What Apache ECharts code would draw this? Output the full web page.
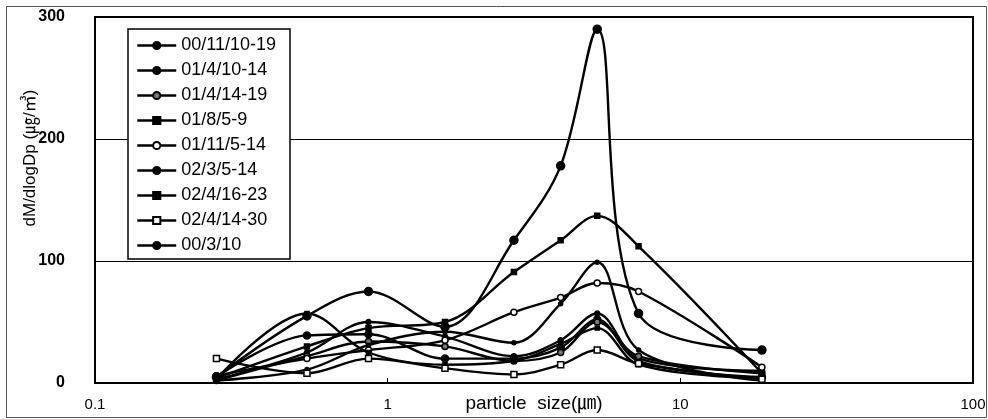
<!DOCTYPE html>
<html>
<head>
<meta charset="utf-8">
<script src="https://cdn.jsdelivr.net/npm/echarts@6/dist/echarts.min.js"></script>
<style>
  html, body { margin: 0; padding: 0; background: #fff; }
  #chart { width: 988px; height: 419px; }
</style>
</head>
<body>
<div id="chart"></div>
<script>
// particle size (um) of each impactor stage
var sizes = [0.26, 0.53, 0.86, 1.57, 2.7, 3.9, 5.2, 7.2, 19];

var names = ['00/11/10-19', '01/4/10-14', '01/4/14-19', '01/8/5-9', '01/11/5-14',
  '02/3/5-14', '02/4/16-23', '02/4/14-30', '00/3/10'];

var s0011 = [3, 25, 50, 38, 22, 35, 57, 20, 10];
var s0104a = [5, 39, 40, 20, 20, 29, 52, 18, 5];
var s0104b = [2, 22, 34, 30, 18, 25, 50, 22, 8];
var s0108 = [4, 30, 45, 50, 91, 117, 137, 112, 8];
var s0111 = [6, 20, 27, 35, 58, 70, 82, 75, 13];
var s0203 = [2, 11, 31, 42, 33, 65, 99, 27, 2];
var s0204a = [3, 57, 25, 15, 18, 32, 45, 15, 4];
var s0204b = [20, 8, 20, 12, 7, 15, 27, 16, 3];
var s0003 = [5, 55, 75, 46, 117, 178, 290, 57, 27];

var yTicks = [0, 100, 200, 300];
var xTicks = [0.1, 1, 10, 100];

var allData = [s0011, s0104a, s0104b, s0108, s0111, s0203, s0204a, s0204b, s0003];
// marker look per series
var marks = [
  { symbol: 'circle', size: 5, fill: '#000' },
  { symbol: 'circle', size: 7, fill: '#000' },
  { symbol: 'circle', size: 6, fill: '#777' },
  { symbol: 'rect', size: 5, fill: '#000' },
  { symbol: 'circle', size: 6, fill: '#fff' },
  { symbol: 'circle', size: 4, fill: '#000' },
  { symbol: 'rect', size: 4, fill: '#000' },
  { symbol: 'rect', size: 6, fill: '#fff' },
  { symbol: 'circle', size: 8, fill: '#000' }
];

var series = allData.map(function (vals, i) {
  return {
    name: names[i],
    type: 'line',
    smooth: 0.35,
    symbol: marks[i].symbol,
    symbolSize: marks[i].size,
    showAllSymbol: true,
    data: vals.map(function (v, j) { return [sizes[j], v]; }),
    lineStyle: { color: '#000', width: 2.4 },
    itemStyle: { color: marks[i].fill, borderColor: '#000', borderWidth: 1.5 },
    z: 3 + i
  };
});

var chart = echarts.init(document.getElementById('chart'));
var font = '"Liberation Sans", Arial, "Noto Sans CJK KR", sans-serif';

chart.setOption({
  animation: false,
  textStyle: { fontFamily: font, color: '#000' },
  grid: {
    left: 95, right: 15, top: 17, bottom: 36,
    outerBoundsMode: 'none',
    containLabel: false,
    show: true, borderColor: '#000', borderWidth: 2
  },
  legend: {
    orient: 'vertical',
    left: 128, top: 29,
    itemWidth: 39, itemHeight: 9, itemGap: 4,
    padding: [6, 14, 3, 8],
    backgroundColor: '#fff',
    borderColor: '#000', borderWidth: 1.5,
    lineStyle: { width: 2.5, color: '#000' },
    textStyle: { fontFamily: font, fontSize: 18, color: '#000', lineHeight: 21 },
    data: names
  },
  xAxis: {
    type: 'log', logBase: 10, min: 0.1, max: 100,
    name: 'particle  size(㎛)',
    nameLocation: 'middle', nameGap: 11,
    nameMoveOverlap: false,
    nameTextStyle: { fontSize: 19, color: '#000', fontFamily: font },
    axisLine: { lineStyle: { color: '#000', width: 2 } },
    axisTick: { show: true, inside: true, length: 5, lineStyle: { color: '#000' } },
    minorTick: { show: false },
    splitLine: { show: false },
    axisLabel: {
      fontSize: 15, color: '#000', margin: 14,
      formatter: function (v) {
        for (var k = 0; k < xTicks.length; k++) {
          if (Math.abs(v - xTicks[k]) < 1e-9 * xTicks[k] + 1e-12) return String(xTicks[k]);
        }
        return '';
      }
    }
  },
  yAxis: {
    type: 'value', min: yTicks[0], max: yTicks[yTicks.length - 1], interval: 100,
    axisLine: { show: true, lineStyle: { color: '#000', width: 2 } },
    axisTick: { show: false },
    splitLine: { lineStyle: { color: '#000', width: 1 } },
    axisLabel: { fontSize: 16, fontWeight: 'bold', color: '#000', margin: 30 }
  },
  graphic: [
    {
      type: 'rect', left: 4, top: 4, z: -1, silent: true,
      shape: { width: 980, height: 411 },
      style: { fill: 'none', stroke: '#555', lineWidth: 1 }
    },
    {
      type: 'text', x: 30, y: 158, rotation: Math.PI / 2,
      style: {
        text: 'dM/dlogDp (㎍/㎥)', fontSize: 17, fill: '#000',
        fontFamily: font, textAlign: 'center', textVerticalAlign: 'middle'
      }
    }
  ],
  series: series
});
</script>
</body>
</html>
